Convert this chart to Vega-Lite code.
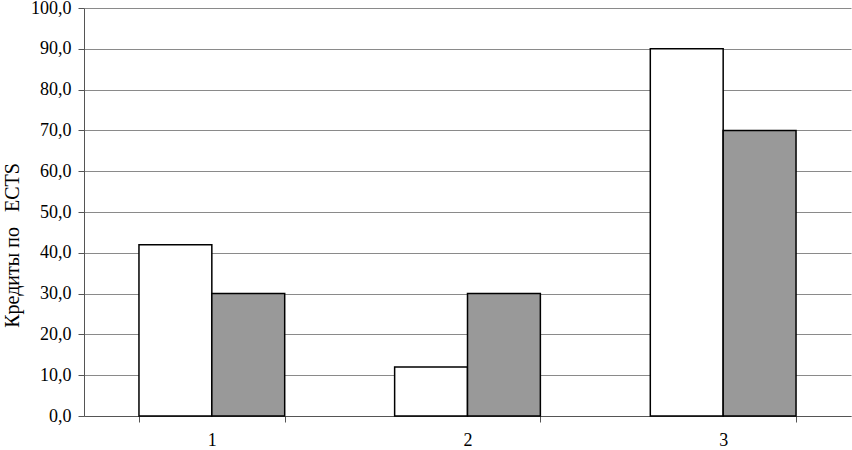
{
  "$schema": "https://vega.github.io/schema/vega-lite/v6.json",
  "width": 767,
  "height": 408,
  "autosize": {"type": "none"},
  "padding": {"left": 84, "top": 8, "right": 1, "bottom": 34},
  "background": "white",
  "config": {
    "view": {"stroke": null},
    "font": "Liberation Serif, Times New Roman, serif"
  },
  "data": {
    "values": [
      {"cat": "1", "series": "A", "value": 42},
      {"cat": "1", "series": "B", "value": 30},
      {"cat": "2", "series": "A", "value": 12},
      {"cat": "2", "series": "B", "value": 30},
      {"cat": "3", "series": "A", "value": 90},
      {"cat": "3", "series": "B", "value": 70}
    ]
  },
  "mark": {"type": "bar", "stroke": "black", "strokeWidth": 1.5},
  "encoding": {
    "x": {
      "field": "cat",
      "type": "nominal",
      "scale": {"paddingInner": 0.43, "paddingOuter": 0.215},
      "axis": {
        "title": null,
        "labelAngle": 0,
        "labelFont": "Liberation Serif, Times New Roman, serif",
        "labelFontSize": 18,
        "labelColor": "black",
        "labelPadding": 9,
        "tickBand": "extent",
        "tickSize": 6,
        "tickColor": "#555555",
        "domainColor": "#555555"
      }
    },
    "xOffset": {"field": "series", "type": "nominal"},
    "y": {
      "field": "value",
      "type": "quantitative",
      "scale": {"domain": [0, 100]},
      "axis": {
        "title": "Кредиты по\u00a0\u00a0\u00a0ECTS",
        "titleFont": "Liberation Serif, Times New Roman, serif",
        "titleFontSize": 20,
        "titleFontWeight": "normal",
        "titleColor": "black",
        "titleX": -66,
        "titleY": 237,
        "titleAngle": -90,
        "titleAlign": "center",
        "titleBaseline": "alphabetic",
        "values": [0, 10, 20, 30, 40, 50, 60, 70, 80, 90, 100],
        "labelExpr": "replace(format(datum.value, '.1f'), '.', ',')",
        "labelFont": "Liberation Serif, Times New Roman, serif",
        "labelFontSize": 18,
        "labelColor": "black",
        "labelPadding": 7,
        "tickSize": 6,
        "tickColor": "#555555",
        "domainColor": "#555555",
        "grid": true,
        "gridColor": "#8a8a8a",
        "gridWidth": 1
      }
    },
    "fill": {
      "field": "series",
      "type": "nominal",
      "scale": {"domain": ["A", "B"], "range": ["#ffffff", "#999999"]},
      "legend": null
    }
  }
}
